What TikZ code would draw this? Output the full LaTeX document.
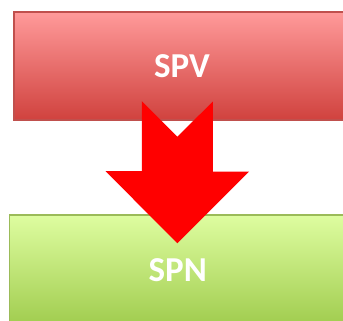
\documentclass[tikz,border=0pt]{standalone}
\usepackage{fontspec}
\setmainfont{Carlito}
\definecolor{spvtop}{RGB}{255,154,154}
\definecolor{spvbottom}{RGB}{208,66,62}
\definecolor{spvline}{RGB}{192,80,77}
\definecolor{spntop}{RGB}{222,253,160}
\definecolor{spnbottom}{RGB}{160,204,78}
\definecolor{spnline}{RGB}{155,187,89}
\tikzset{
  stage/.style = {
    rectangle,
    line width=1.2pt,
    text=white,
    font=\fontsize{35}{40}\selectfont\bfseries
  },
}

\begin{document}
\begin{tikzpicture}[x=1pt,y=1pt]
  \pgfmathsetmacro{\shaft}{35.5};
  \pgfmathsetmacro{\head}{71.7};
  \clip (0,0) rectangle (343,321);
  \fill[white] (0,0) rectangle (343,321);
  % boxes
  \node[stage,draw=spvline,top color=spvtop,bottom color=spvbottom,
    minimum width=336,minimum height=108] (spv) at (182,255) {SPV};
  \node[stage,draw=spnline,top color=spntop,bottom color=spnbottom,
    minimum width=336.5,minimum height=111] (spn) at (177.75,50.5) {SPN};
  % arrow
  \coordinate (tip) at (177.3,77.7);
  \coordinate (notch) at (177.3,184.3);
  \fill[red] (notch) -- ++ (-\shaft,\shaft) -- ++ (0,-70) -- ++ ({-\head+\shaft},0)
    -- (tip) -- ++ (\head,\head) -- ++ ({-\head+\shaft},0) -- ++ (0,70) -- cycle;
\end{tikzpicture}
\end{document}
